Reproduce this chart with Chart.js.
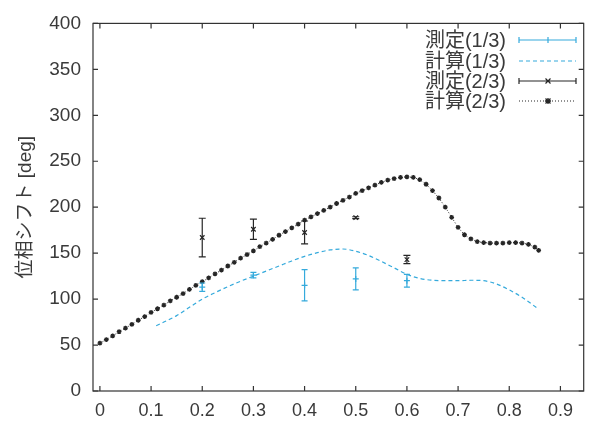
<!DOCTYPE html>
<html><head><meta charset="utf-8">
<script src="https://cdn.jsdelivr.net/npm/chart.js@4/dist/chart.umd.min.js"></script>
<style>html,body{margin:0;padding:0;background:#fff}#wrap{width:589px;height:421px}</style>
</head><body><div id="wrap"><canvas id="c" width="589" height="421"></canvas></div>
<script>
// ---- data ----
const calc2X = [0,0.0125,0.025,0.0375,0.05,0.0625,0.075,0.0875,0.1,0.1125,0.125,0.1375,0.15,0.1625,0.175,0.1875,0.2,0.2125,0.225,0.2375,0.25,0.2625,0.275,0.2875,0.3,0.3125,0.325,0.3375,0.35,0.3625,0.375,0.3875,0.4,0.4125,0.425,0.4375,0.45,0.4625,0.475,0.4875,0.5,0.5125,0.525,0.5375,0.55,0.5625,0.575,0.5875,0.6,0.6125,0.625,0.6375,0.65,0.6625,0.675,0.6875,0.7,0.7125,0.725,0.7375,0.75,0.7625,0.775,0.7875,0.8,0.8125,0.825,0.8375,0.85,0.8575];
const calc2Y = [52,56,60,64.5,68.5,72.5,77,81,85.5,89.5,93.5,98,102,106,110.5,115,119,123,127.5,131.5,136,140,144.5,148.5,152.5,157,161,165,169.5,173.5,177.5,181.5,186,189.5,193,196.5,200,204,207.5,211,215,218,221,224,227,229.5,231,232.5,233,232.5,230,225,218,210,200,189,178,170,165.5,162.5,161.5,161,161,161,161.5,161.5,161,159.5,156.5,153];
const calc1X = [0.11,0.125,0.15,0.175,0.2,0.225,0.25,0.275,0.3,0.325,0.35,0.375,0.4,0.425,0.45,0.475,0.5,0.525,0.55,0.575,0.6,0.625,0.65,0.675,0.7,0.725,0.75,0.775,0.8,0.825,0.8575];
const calc1Y = [71,75,82,91,100,107,113.5,119.5,125,130.5,136,141.5,146.5,150.5,153.5,154.5,152,147.5,141,134,127,122.5,120.5,120,120,120.5,120,116.5,110,102,89];
const measX = [0.2,0.3,0.4,0.5,0.6];
const meas1Y = [113,126,115,122,120];
const meas1Err = [4.5,3,17,12,7];
const meas2Y = [167,176,172.5,188.6,143];
const meas2Err = [21,11,12.5,1,4.5];
const xTicks = [0,0.1,0.2,0.3,0.4,0.5,0.6,0.7,0.8,0.9];
const yTicks = [0,50,100,150,200,250,300,350,400];
const legendLabels = ['測定(1/3)','計算(1/3)','測定(2/3)','計算(2/3)'];
const yTitle = '位相シフト [deg]';

const BLUE = '#35aadc';
const BLACK = '#262626';
const TXT = '#3a3a3a';
const FONT = '"Liberation Sans", "Noto Sans CJK JP", sans-serif';

const pts = (xs, ys) => xs.map((x, i) => ({x, y: ys[i]}));

Chart.defaults.font.family = FONT;
Chart.defaults.color = TXT;

const errorBarPlugin = {
  id: 'errbars',
  afterDatasetsDraw(chart) {
    const ctx = chart.ctx, xs = chart.scales.x, ys = chart.scales.y;
    chart.data.datasets.forEach(ds => {
      if (!ds.errorBars) return;
      ctx.save();
      ctx.strokeStyle = ds.borderColor;
      ctx.lineWidth = 1.2;
      ds.data.forEach((p, i) => {
        const e = ds.errorBars[i];
        const px = xs.getPixelForValue(p.x);
        const y1 = ys.getPixelForValue(p.y - e), y2 = ys.getPixelForValue(p.y + e);
        const cw = ds.capWidth;
        ctx.beginPath();
        ctx.moveTo(px, y1); ctx.lineTo(px, y2);
        ctx.moveTo(px - cw, y1); ctx.lineTo(px + cw, y1);
        ctx.moveTo(px - cw, y2); ctx.lineTo(px + cw, y2);
        ctx.stroke();
      });
      ctx.restore();
    });
  }
};

const framePlugin = {
  id: 'frame',
  afterDraw(chart) {
    const ctx = chart.ctx, a = chart.chartArea, xs = chart.scales.x, ys = chart.scales.y;
    ctx.save();
    ctx.strokeStyle = '#333';
    ctx.lineWidth = 1.2;
    ctx.strokeRect(a.left, a.top, a.right - a.left, a.bottom - a.top);
    const L = 5;
    ctx.beginPath();
    xTicks.forEach(v => {
      const px = xs.getPixelForValue(v);
      ctx.moveTo(px, a.bottom); ctx.lineTo(px, a.bottom - L);
      ctx.moveTo(px, a.top); ctx.lineTo(px, a.top + L);
    });
    yTicks.forEach(v => {
      const py = ys.getPixelForValue(v);
      ctx.moveTo(a.left, py); ctx.lineTo(a.left + L, py);
      ctx.moveTo(a.right, py); ctx.lineTo(a.right - L, py);
    });
    ctx.stroke();
    ctx.restore();
  }
};

const legendPlugin = {
  id: 'gpLegend',
  afterDraw(chart) {
    const ctx = chart.ctx;
    const textRight = 506, x1 = 519, x2 = 576, xm = 548;
    const rows = [40, 61, 81, 101];
    ctx.save();
    ctx.font = '20px ' + FONT;
    ctx.fillStyle = TXT;
    ctx.textAlign = 'right';
    ctx.textBaseline = 'middle';
    legendLabels.forEach((t, i) => ctx.fillText(t, textRight, rows[i] + 1));
    // row 1: blue error bar sample
    ctx.lineWidth = 1.2;
    ctx.strokeStyle = BLUE;
    ctx.beginPath();
    ctx.moveTo(x1, rows[0]); ctx.lineTo(x2, rows[0]);
    ctx.moveTo(x1, rows[0] - 3); ctx.lineTo(x1, rows[0] + 3);
    ctx.moveTo(x2, rows[0] - 3); ctx.lineTo(x2, rows[0] + 3);
    ctx.moveTo(xm, rows[0] - 3); ctx.lineTo(xm, rows[0] + 3);
    ctx.stroke();
    // row 2: blue dashed
    ctx.setLineDash([4, 3]);
    ctx.beginPath(); ctx.moveTo(x1, rows[1]); ctx.lineTo(x2, rows[1]); ctx.stroke();
    ctx.setLineDash([]);
    // row 3: black error bar sample with x
    ctx.strokeStyle = BLACK;
    ctx.beginPath();
    ctx.moveTo(x1, rows[2]); ctx.lineTo(x2, rows[2]);
    ctx.moveTo(x1, rows[2] - 3); ctx.lineTo(x1, rows[2] + 3);
    ctx.moveTo(x2, rows[2] - 3); ctx.lineTo(x2, rows[2] + 3);
    ctx.moveTo(xm - 2.5, rows[2] - 2.5); ctx.lineTo(xm + 2.5, rows[2] + 2.5);
    ctx.moveTo(xm - 2.5, rows[2] + 2.5); ctx.lineTo(xm + 2.5, rows[2] - 2.5);
    ctx.stroke();
    // row 4: dotted with star marker
    ctx.setLineDash([1, 2]);
    ctx.beginPath(); ctx.moveTo(x1, rows[3]); ctx.lineTo(x2, rows[3]); ctx.stroke();
    ctx.setLineDash([]);
    ctx.lineWidth = 1.3;
    ctx.beginPath();
    ctx.moveTo(xm - 2.5, rows[3] - 2.5); ctx.lineTo(xm + 2.5, rows[3] + 2.5);
    ctx.moveTo(xm - 2.5, rows[3] + 2.5); ctx.lineTo(xm + 2.5, rows[3] - 2.5);
    ctx.moveTo(xm - 3, rows[3]); ctx.lineTo(xm + 3, rows[3]);
    ctx.moveTo(xm, rows[3] - 3); ctx.lineTo(xm, rows[3] + 3);
    ctx.stroke();
    ctx.restore();
  }
};

new Chart(document.getElementById('c'), {
  type: 'scatter',
  data: {
    datasets: [
      { label: legendLabels[0], data: pts(measX, meas1Y), errorBars: meas1Err, capWidth: 3,
        showLine: false, borderColor: BLUE, backgroundColor: BLUE, pointStyle: 'cross', pointRadius: 3, borderWidth: 1.2 },
      { label: legendLabels[2], data: pts(measX, meas2Y), errorBars: meas2Err, capWidth: 3.5,
        showLine: false, borderColor: BLACK, backgroundColor: BLACK, pointStyle: 'crossRot', pointRadius: 3.2, borderWidth: 1.2 },
      { label: legendLabels[3], data: pts(calc2X, calc2Y), showLine: true, borderColor: BLACK, backgroundColor: BLACK,
        borderWidth: 1, borderDash: [1, 2], pointStyle: 'star', pointRadius: 2.4, pointBorderWidth: 1.3, tension: 0 },
      { label: legendLabels[1], data: pts(calc1X, calc1Y), showLine: true, borderColor: BLUE, backgroundColor: BLUE,
        borderWidth: 1.2, borderDash: [4, 3], pointRadius: 0, tension: 0.4, cubicInterpolationMode: 'monotone' }
    ]
  },
  options: {
    responsive: false,
    animation: false,
    layout: { padding: { top: 20, right: 2, left: 0, bottom: 0 } },
    plugins: { legend: { display: false }, tooltip: { enabled: false } },
    scales: {
      x: {
        type: 'linear', min: -0.0135, max: 0.9455,
        afterFit(s) { s.height = 30; },
        afterBuildTicks(s) { s.ticks = xTicks.map(v => ({value: v})); },
        grid: { display: false, drawTicks: false },
        border: { display: false },
        ticks: { padding: 9, font: { size: 18 }, color: TXT, callback: v => String(Math.round(v * 10) / 10) }
      },
      y: {
        type: 'linear', min: 0, max: 400,
        afterFit(s) { s.width = 93; },
        afterBuildTicks(s) { s.ticks = yTicks.map(v => ({value: v})); },
        grid: { display: false, drawTicks: false },
        border: { display: false },
        ticks: { padding: 12, font: { size: 19 }, color: TXT },
        title: { display: true, text: yTitle, font: { size: 19 }, color: TXT, padding: { top: 14, bottom: 0 } }
      }
    }
  },
  plugins: [errorBarPlugin, framePlugin, legendPlugin]
});
</script>
</body></html>
